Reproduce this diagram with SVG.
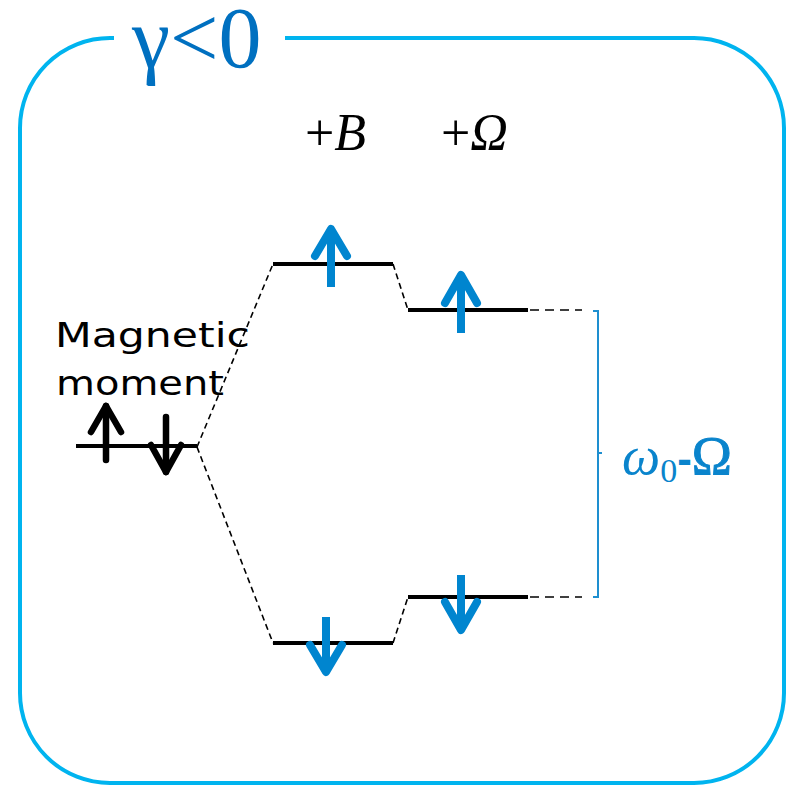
<svg xmlns="http://www.w3.org/2000/svg" width="788" height="787" viewBox="0 0 788 787">
<style>
.frame{fill:none;stroke:#00B4EF;stroke-width:4}
.lvl{stroke:#000;stroke-width:4;fill:none}
.dash{stroke:#000;stroke-width:1.6;stroke-dasharray:6,4;fill:none}
.dash2{stroke:#000;stroke-width:1.6;stroke-dasharray:9,6;fill:none}
.barrow{stroke:#000;stroke-width:6.5;fill:none;stroke-linecap:round;stroke-linejoin:round}
.carrow{stroke:#0085CF;stroke-width:8;fill:none;stroke-linecap:butt;stroke-linejoin:round}
.carrow .h{stroke-linecap:round}
.serif{font-family:"Liberation Serif","Times New Roman",serif}
</style>
<path class="frame" d="M285,38 H694 A90,90 0 0 1 784,128 V693 A90,90 0 0 1 694,783 H110 A90,90 0 0 1 20,693 V128 A90,90 0 0 1 110,38 H114"/>
<text class="serif" x="132" y="67" font-size="86" fill="#0070C0">γ&lt;0</text>
<text class="serif" x="305" y="150" font-size="52" fill="#000">+<tspan font-style="italic">B</tspan></text>
<text class="serif" x="441" y="150" font-size="52" fill="#000">+<tspan font-style="italic">Ω</tspan></text>
<g id="label-magnetic">
<text x="55" y="347" font-family="DejaVu Sans, sans-serif" font-size="34" textLength="195" lengthAdjust="spacingAndGlyphs" fill="#000">Magnetic</text>
<text x="56" y="395" font-family="DejaVu Sans, sans-serif" font-size="34" textLength="168" lengthAdjust="spacingAndGlyphs" fill="#000">moment</text>
</g>
<g id="connectors">
<path class="dash" d="M197,447 L273,264"/>
<path class="dash" d="M197,447 L273,643"/>
<path class="dash" d="M393,264 L408,310"/>
<path class="dash" d="M393,643 L408,597"/>
<path class="dash2" d="M530,310 H582"/>
<path class="dash2" d="M530,597 H582"/>
</g>
<g id="level-initial">
<line class="lvl" x1="76" y1="446" x2="197" y2="446"/>
<g class="barrow"><line x1="106" y1="406" x2="106" y2="460"/><polyline points="91,432 106,406 121,432"/></g>
<g class="barrow"><line x1="166" y1="417" x2="166" y2="472"/><polyline points="151,445 166,472 181,445"/></g>
</g>
<g id="level-B-up">
<line class="lvl" x1="273" y1="264" x2="393" y2="264"/>
<g class="carrow"><line x1="331" y1="232" x2="331" y2="287"/><polyline class="h" points="315,256 331,229 347,256"/></g>
</g>
<g id="level-B-down">
<line class="lvl" x1="273" y1="643" x2="393" y2="643"/>
<g class="carrow"><line x1="326" y1="617" x2="326" y2="670"/><polyline class="h" points="310,645 326,672 342,645"/></g>
</g>
<g id="level-O-up">
<line class="lvl" x1="408" y1="310" x2="528" y2="310"/>
<g class="carrow"><line x1="461" y1="278" x2="461" y2="333"/><polyline class="h" points="445,303 461,275 477,303"/></g>
</g>
<g id="level-O-down">
<line class="lvl" x1="408" y1="597" x2="528" y2="597"/>
<g class="carrow"><line x1="461" y1="575" x2="461" y2="628"/><polyline class="h" points="445,602 461,630 477,602"/></g>
</g>
<g id="bracket">
<path d="M593,311 H598 V597 H593 M598,453 H602" fill="none" stroke="#1E8FD0" stroke-width="2"/>
<text class="serif" x="622" y="474" font-size="54" fill="#0A84CC"><tspan font-style="italic">ω</tspan><tspan font-size="34" dy="8">0</tspan><tspan dy="-8" font-family="Liberation Sans, sans-serif" font-weight="bold" font-size="44">-</tspan><tspan stroke="#0A84CC" stroke-width="1">Ω</tspan></text>
</g>
</svg>
